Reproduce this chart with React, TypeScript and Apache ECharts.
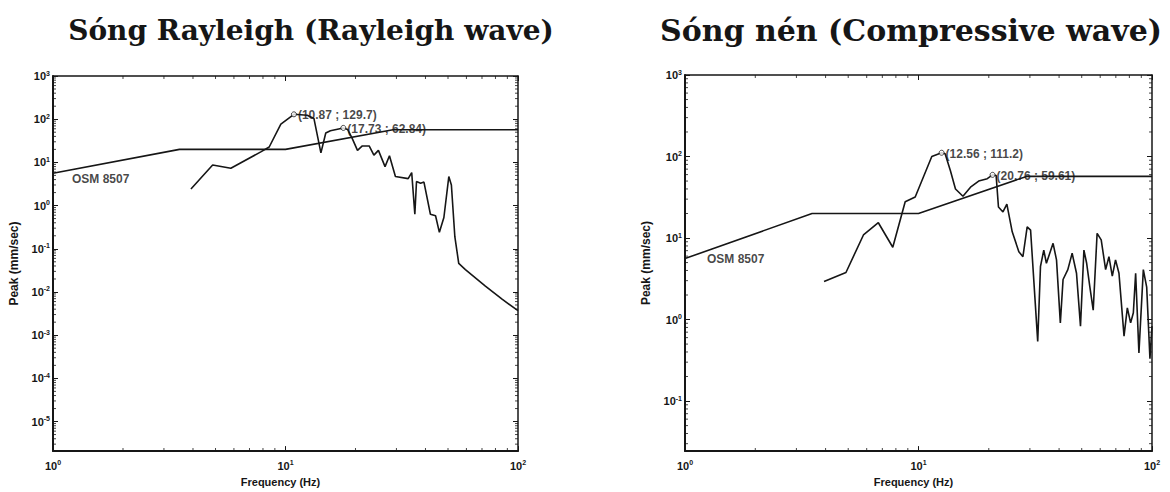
import React, { useEffect, useRef } from "react";
import * as echarts from "echarts";

// ---------- texts ----------
const leftTitle = "Sóng Rayleigh (Rayleigh wave)";
const rightTitle = "Sóng nén (Compressive wave)";
const xAxisName = "Frequency (Hz)";
const yAxisName = "Peak (mm/sec)";
const osmLabel = "OSM 8507";

// ---------- tick labels (powers of ten) ----------
const xTickExponents = [0, 1, 2];
const leftYTickExponents = [-5, -4, -3, -2, -1, 0, 1, 2, 3];
const rightYTickExponents = [-1, 0, 1, 2, 3];
const minorMultipliers = [2, 3, 4, 5, 6, 7, 8, 9];

// ---------- axis extents ----------
const xMin = 1;
const xMax = 100;
const yMax = 1000;
const leftYMinExp = -5.684;
const rightYMinExp = -1.614;

// ---------- OSM 8507 limit line ----------
const osmFreq = [1, 3.5, 10, 29, 100];
const osmPeak = [5.6, 20, 20, 57, 57];

// ---------- Rayleigh wave spectrum ----------
const rayleighFreq = [
  3.92, 4.86, 5.82, 7.83, 8.51, 9.55, 10.87, 12.4, 13.25, 14.2, 14.9, 15.6, 17.73,
  18.5, 19.4, 20.4, 21.4, 22.9, 24.0, 25.1, 26.8, 28.0, 29.7, 33.7, 34.9, 36.0,
  36.6, 38.1, 39.4, 42.0, 44.2, 45.9, 48.0, 50.4, 51.7, 53.5, 55.6, 59.4, 72.4,
  85.4, 100,
];
const rayleighPeak = [
  2.43, 8.7, 7.3, 17.5, 22.7, 77, 129.7, 123, 104, 16.6, 48, 54, 62.84,
  58, 35, 19, 24, 24, 14.7, 19, 8.0, 14.2, 4.7, 4.2, 5.8, 0.63,
  3.6, 3.3, 3.5, 0.63, 0.58, 0.24, 0.53, 4.7, 3.0, 0.19, 0.046, 0.033, 0.0137,
  0.0068, 0.0037,
];
const rayleighMarkFreq = [10.87, 17.73];
const rayleighMarkPeak = [129.7, 62.84];

// ---------- Compressive wave spectrum ----------
const compFreq = [
  3.94, 4.89, 5.81, 6.73, 7.76, 8.77, 9.68, 11.4, 12.56, 13.0, 13.7, 14.4, 15.5,
  16.7, 18.1, 19.7, 20.76, 21.5, 22.0, 23.0, 23.9, 25.2, 26.9, 28.0, 29.2, 30.2,
  32.4, 33.3, 34.4, 35.3, 37.7, 39.0, 40.5, 41.6, 43.6, 45.5, 47.5, 49.4, 51.1,
  52.5, 54.2, 56.0, 58.2, 60.6, 63.3, 65.4, 67.6, 69.8, 72.2, 75.9, 78.4, 81.0,
  83.2, 85.1, 87.9, 91.8, 94.9, 98.0, 100,
];
const compPeak = [
  2.93, 3.78, 10.9, 15.4, 7.7, 27.8, 31.9, 100, 111.2, 108, 67, 40, 32.5,
  42, 50, 53.5, 59.61, 58.6, 24, 20.9, 26, 11.9, 6.8, 5.9, 13.7, 12.5,
  0.54, 4.5, 7.1, 4.9, 8.6, 5.4, 0.91, 3.1, 4.1, 6.5, 3.7, 0.83, 7.1,
  4.9, 2.5, 1.3, 11.4, 9.5, 4.1, 5.9, 3.4, 5.4, 3.7, 0.625, 1.39, 0.91,
  1.21, 3.7, 0.39, 4.1, 2.5, 0.33, 0.83,
];
const compMarkFreq = [12.56, 20.76];
const compMarkPeak = [111.2, 59.61];

// ---------- styling ----------
const INK = "#161616";
const SANS = "Liberation Sans, Arial, sans-serif";

const zip = (a: number[], b: number[]) => a.map((v, i) => [v, b[i]]);

const expFormatter = (allowed: number[]) => (v: number) => {
  const e = Math.log10(v);
  const r = Math.round(e);
  if (Math.abs(e - r) > 1e-6 || allowed.indexOf(r) < 0) return "";
  return `{b|10}{s|${r}}`;
};

const richLabel = {
  b: { fontSize: 11, fontWeight: "bold", fontFamily: SANS, color: INK, lineHeight: 13 },
  s: { fontSize: 7, fontWeight: "bold", fontFamily: SANS, color: INK, lineHeight: 7, verticalAlign: "top" },
};

function makeXAxes(gridIndex: number) {
  const base = {
    type: "log",
    logBase: 10,
    gridIndex,
    min: xMin,
    max: xMax,
    splitLine: { show: false },
    axisTick: { show: true, inside: true, length: 5, lineStyle: { color: INK, width: 1 } },
  };
  return [
    {
      ...base,
      position: "bottom",
      axisLine: { show: true, lineStyle: { color: INK, width: 2 } },
      axisLabel: {
        show: true,
        margin: 8,
        formatter: expFormatter(xTickExponents),
        rich: richLabel,
      },
      name: xAxisName,
      nameLocation: "middle",
      nameGap: 19,
      nameTextStyle: {
        fontFamily: SANS,
        fontWeight: "bold",
        fontSize: 11,
        color: INK,
        padding: [0, 10, 0, 0],
        verticalAlign: "top",
      },
    },
    {
      ...base,
      position: "top",
      axisLine: { show: true, lineStyle: { color: INK, width: 1.5 } },
      axisLabel: { show: false },
    },
  ];
}

function makeYAxes(gridIndex: number, minExp: number, exps: number[]) {
  const base = {
    type: "log",
    logBase: 10,
    gridIndex,
    min: Math.pow(10, minExp),
    max: yMax,
    splitLine: { show: false },
    axisTick: { show: true, inside: true, length: 5, lineStyle: { color: INK, width: 1 } },
  };
  return [
    {
      ...base,
      position: "left",
      axisLine: { show: true, lineStyle: { color: INK, width: 2 } },
      axisLabel: {
        show: true,
        margin: 3,
        formatter: expFormatter(exps),
        rich: richLabel,
      },
      name: yAxisName,
      nameLocation: "middle",
      nameRotate: 90,
      nameGap: 33,
      nameTextStyle: { fontFamily: SANS, fontWeight: "bold", fontSize: 12, color: INK },
    },
    {
      ...base,
      position: "right",
      axisLine: { show: true, lineStyle: { color: INK, width: 1.5 } },
      axisLabel: { show: false },
    },
  ];
}

// MATLAB-style minor ticks (2..9 in each decade), drawn as tiny rects on the axis scales
function minorTickSeries(xIdx: number, yIdx: number, minExp: number) {
  const yMinVal = Math.pow(10, minExp);
  const xMinor: number[] = [];
  for (let e = 0; e < 2; e++) minorMultipliers.forEach((m) => xMinor.push(m * Math.pow(10, e)));
  const yMinor: number[] = [];
  for (let e = Math.floor(minExp); e < 3; e++)
    minorMultipliers.forEach((m) => {
      const v = m * Math.pow(10, e);
      if (Math.log10(v) > minExp) yMinor.push(v);
    });
  const L = 3;
  const common = {
    type: "scatter",
    xAxisIndex: xIdx,
    yAxisIndex: yIdx,
    silent: true,
    symbol: "rect",
    itemStyle: { color: INK },
    z: 5,
  };
  return [
    { ...common, data: xMinor.map((f) => [f, yMinVal]), symbolSize: [1, L], symbolOffset: [0, -L / 2] },
    { ...common, data: xMinor.map((f) => [f, yMax]), symbolSize: [1, L], symbolOffset: [0, L / 2] },
    { ...common, data: yMinor.map((v) => [xMin, v]), symbolSize: [L, 1], symbolOffset: [L / 2, 0] },
    { ...common, data: yMinor.map((v) => [xMax, v]), symbolSize: [L, 1], symbolOffset: [-L / 2, 0] },
  ];
}

function chartSeries(
  xIdx: number,
  yIdx: number,
  freq: number[],
  peak: number[],
  markF: number[],
  markP: number[],
  osmOffset: number[],
  minExp: number
) {
  return [
    {
      type: "line",
      xAxisIndex: xIdx,
      yAxisIndex: yIdx,
      data: zip(osmFreq, osmPeak),
      showSymbol: false,
      lineStyle: { color: INK, width: 1.6 },
      z: 3,
    },
    {
      type: "line",
      xAxisIndex: xIdx,
      yAxisIndex: yIdx,
      data: zip(freq, peak),
      showSymbol: false,
      lineStyle: { color: INK, width: 1.6 },
      z: 3,
    },
    {
      type: "scatter",
      xAxisIndex: xIdx,
      yAxisIndex: yIdx,
      data: zip(markF, markP),
      symbol: "circle",
      symbolSize: 5,
      itemStyle: { color: "#ffffff", borderColor: INK, borderWidth: 1 },
      z: 4,
      label: {
        show: true,
        position: "right",
        distance: 1,
        offset: [0, 1],
        formatter: (p: any) => `(${p.value[0]} ; ${p.value[1]})`,
        fontFamily: SANS,
        fontWeight: "bold",
        fontSize: 12,
        color: INK,
      },
    },
    {
      type: "scatter",
      xAxisIndex: xIdx,
      yAxisIndex: yIdx,
      data: [[osmFreq[0], osmPeak[0]]],
      symbolSize: 0,
      z: 4,
      label: {
        show: true,
        position: "right",
        distance: 0,
        offset: osmOffset,
        formatter: osmLabel,
        fontFamily: SANS,
        fontWeight: "bold",
        fontSize: 12,
        color: INK,
      },
    },
    ...minorTickSeries(xIdx, yIdx, minExp),
  ];
}

export default function App() {
  const ref = useRef<HTMLDivElement>(null);
  useEffect(() => {
    if (!ref.current) return;
    const chart = echarts.init(ref.current, null, { renderer: "svg" });
    const titleStyle = (size: number) => ({
      fontFamily: "DejaVu Serif, serif",
      fontWeight: "bold",
      fontSize: size,
      color: INK,
    });
    chart.setOption({
      animation: false,
      backgroundColor: "#ffffff",
      title: [
        { text: leftTitle, left: 306, top: 11, textAlign: "center", textStyle: titleStyle(28) },
        { text: rightTitle, left: 906, top: 10, textAlign: "center", textStyle: titleStyle(30) },
      ],
      grid: [
        { left: 53, top: 76, width: 465, height: 381, containLabel: false },
        { left: 685, top: 75, width: 467, height: 383, containLabel: false },
      ],
      xAxis: [...makeXAxes(0), ...makeXAxes(1)],
      yAxis: [
        ...makeYAxes(0, leftYMinExp, leftYTickExponents),
        ...makeYAxes(1, rightYMinExp, rightYTickExponents),
      ],
      series: [
        ...chartSeries(0, 0, rayleighFreq, rayleighPeak, rayleighMarkFreq, rayleighMarkPeak, [19, 6], leftYMinExp),
        ...chartSeries(2, 2, compFreq, compPeak, compMarkFreq, compMarkPeak, [22, 0], rightYMinExp),
      ],
    });
    return () => chart.dispose();
  }, []);
  return (
    <div
      ref={ref}
      style={{ position: "absolute", left: 0, top: 0, width: 1170, height: 492, background: "#fff" }}
    />
  );
}
